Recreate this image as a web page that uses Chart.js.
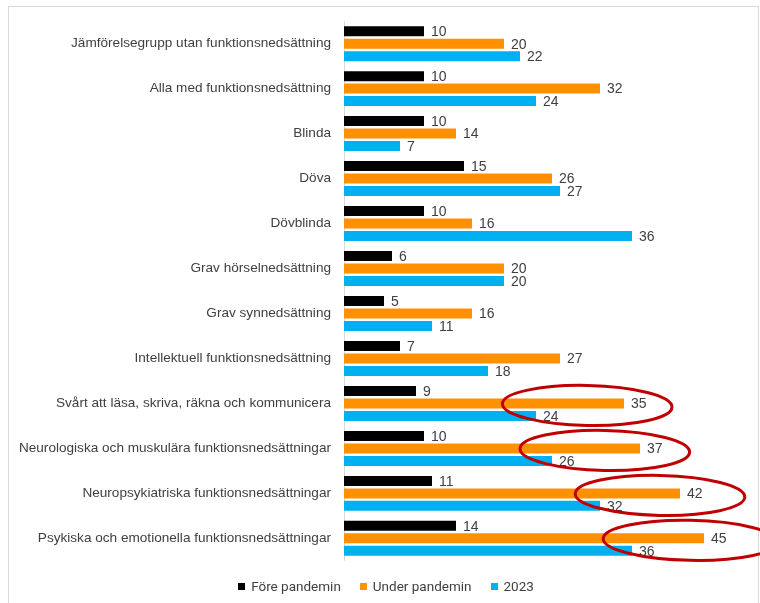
<!DOCTYPE html>
<html>
<head>
<meta charset="utf-8">
<script src="https://cdn.jsdelivr.net/npm/chart.js@4/dist/chart.umd.min.js"></script>
<style>
  html, body { margin: 0; padding: 0; background: #fff; overflow: hidden; }
  #frame { position: absolute; left: 8px; top: 6px; width: 749px; height: 640px; border: 1px solid #d9d9d9; }
  #wrap { position: absolute; left: 0; top: 0; width: 760px; height: 582px; }
  .chart-legend { position: absolute; left: 0; top: 578px; width: 772px; height: 16px; text-align: center; white-space: nowrap;
                  font: 13.5px Roboto, "Liberation Sans", sans-serif; line-height: 16px; color: #404040; }
  .chart-legend-item { display: inline-block; margin: 0 9.5px; }
  .legend-color { display: inline-block; width: 7px; height: 7px; margin-right: 6px; vertical-align: 1px; }
</style>
</head>
<body>
<div id="frame"></div>
<div id="wrap"><canvas id="chart"></canvas></div>
<div class="chart-legend"></div>
<script>
// Categories and series
const categories = [
    'Jämförelsegrupp utan funktionsnedsättning',
    'Alla med funktionsnedsättning',
    'Blinda',
    'Döva',
    'Dövblinda',
    'Grav hörselnedsättning',
    'Grav synnedsättning',
    'Intellektuell funktionsnedsättning',
    'Svårt att läsa, skriva, räkna och kommunicera',
    'Neurologiska och muskulära funktionsnedsättningar',
    'Neuropsykiatriska funktionsnedsättningar',
    'Psykiska och emotionella funktionsnedsättningar'
];
const seriesNames = ['Före pandemin', 'Under pandemin', '2023'];
const forePandemin = [10, 10, 10, 15, 10, 6, 5, 7, 9, 10, 11, 14];
const underPandemin = [20, 32, 14, 26, 16, 20, 16, 27, 35, 37, 42, 45];
const year2023 = [22, 24, 7, 27, 36, 20, 11, 18, 24, 26, 32, 36];
const seriesColors = ['#000000', '#FF9000', '#00B0F0'];

// Red ellipses highlighting the pandemic values (category index, centre value, half width in value units)
const highlights = [
    { cat: 8, center: 30.4, radius: 10.6 },
    { cat: 9, center: 32.6, radius: 10.6 },
    { cat: 10, center: 39.5, radius: 10.6 },
    { cat: 11, center: 43.3, radius: 10.9 }
];

const fontFamily = '"Liberation Sans", Arial, sans-serif';

// Value labels at the end of each bar
const valueLabels = {
    id: 'valueLabels',
    afterDatasetsDraw(chart) {
        const ctx = chart.ctx;
        ctx.save();
        ctx.font = '14px ' + fontFamily;
        ctx.fillStyle = '#404040';
        ctx.textBaseline = 'middle';
        chart.data.datasets.forEach((ds, i) => {
            chart.getDatasetMeta(i).data.forEach((bar, j) => {
                ctx.fillText(ds.data[j], bar.x + 7, bar.y + 1);
            });
        });
        ctx.restore();
    }
};

// Ellipse annotations
const ellipses = {
    id: 'ellipses',
    afterDraw(chart) {
        const ctx = chart.ctx;
        const x = chart.scales.x, y = chart.scales.y;
        ctx.save();
        ctx.strokeStyle = '#C00000';
        ctx.lineWidth = 3;
        highlights.forEach(h => {
            const cx = x.getPixelForValue(h.center);
            const rx = x.getPixelForValue(h.center + h.radius) - cx;
            const cy = y.getPixelForValue(h.cat) + 2;
            ctx.beginPath();
            ctx.ellipse(cx, cy, rx, 20, 0.02, 0, Math.PI * 2);
            ctx.stroke();
        });
        ctx.restore();
    }
};

const chart = new Chart(document.getElementById('chart').getContext('2d'), {
    type: 'bar',
    data: {
        labels: categories,
        datasets: [forePandemin, underPandemin, year2023].map((values, i) => ({
            label: seriesNames[i],
            data: values,
            backgroundColor: seriesColors[i],
            barPercentage: 0.8,
            categoryPercentage: 0.833
        }))
    },
    options: {
        indexAxis: 'y',
        responsive: true,
        maintainAspectRatio: false,
        animation: false,
        layout: { padding: { top: 20, right: 16, bottom: 5, left: 0 } },
        scales: {
            x: { display: false, min: 0, max: 50 },
            y: {
                afterFit: s => { s.width = 344; },
                grid: { display: false, drawTicks: false },
                border: { color: '#d9d9d9' },
                ticks: { padding: 13, color: '#404040', font: { family: fontFamily, size: 13.6 } }
            }
        },
        plugins: {
            legend: { display: false },
            tooltip: { enabled: false }
        }
    },
    plugins: [valueLabels, ellipses]
});

// Legend below the chart, built from the datasets
function createLegend(chart) {
    const container = document.querySelector('.chart-legend');
    container.innerHTML = '';
    chart.data.datasets.forEach(ds => {
        const item = document.createElement('span');
        item.classList.add('chart-legend-item');
        const box = document.createElement('span');
        box.classList.add('legend-color');
        box.style.backgroundColor = ds.backgroundColor;
        const text = document.createElement('span');
        text.textContent = ds.label;
        item.appendChild(box);
        item.appendChild(text);
        container.appendChild(item);
    });
}
createLegend(chart);
</script>
</body>
</html>
